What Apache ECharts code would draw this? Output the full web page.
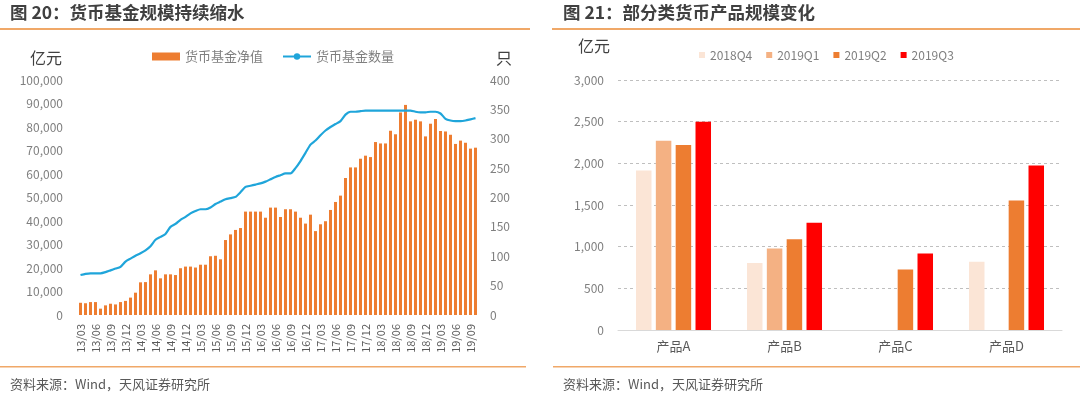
<!DOCTYPE html>
<html>
<head>
<meta charset="utf-8">
<script src="https://cdn.jsdelivr.net/npm/echarts@6/dist/echarts.min.js"></script>
<style>
  html, body { margin: 0; padding: 0; background: #fff; }
  #main { width: 1080px; height: 396px; }
</style>
</head>
<body>
<div id="main"></div>
<script>
var chart = echarts.init(document.getElementById('main'));

// ---------- left: money fund size & count, monthly 2013/03 - 2019/10 ----------
var months = [];
for (var y = 13; y <= 19; y++) {
  for (var m = 1; m <= 12; m++) {
    if ((y === 13 && m < 3) || (y === 19 && m > 10)) continue;
    months.push(y + '/' + (m < 10 ? '0' + m : m));
  }
}
var fundNav = [
  5200, 5000, 5500, 5500, 2700, 4100, 4800, 4500, 5500, 6000,
  7400, 9500, 13900, 14000, 17300, 19000, 15600, 17300, 17300, 17000,
  19900, 20600, 20600, 20200, 21400, 21400, 25000, 25200, 23700, 31900,
  34300, 36200, 37000, 44000, 44000, 44000, 44000, 41400, 45700, 45700,
  41700, 45000, 45000, 44000, 41400, 38900, 42700, 35700, 38600, 39900,
  44700, 48100, 50800, 58300, 62800, 62800, 66500, 67800, 67200, 73600,
  73000, 73000, 78400, 76900, 86200, 89400, 82400, 83100, 82400, 76000,
  81400, 83400, 78300, 78100, 76700, 72800, 74200, 73300, 70800, 71200
];
var fundCount = [
  68, 70, 71, 71, 71, 73, 76, 79, 82, 91,
  96, 101, 105, 110, 117, 128, 133, 138, 150, 155,
  162, 167, 173, 177, 180, 180, 183, 189, 193, 197,
  199, 201, 209, 218, 220, 222, 224, 227, 231, 235,
  238, 241, 241, 250, 262, 276, 290, 297, 306, 314,
  320, 325, 330, 341, 346, 346, 347, 348, 348, 348,
  348, 348, 348, 348, 348, 348, 348, 346, 345, 345,
  346, 346, 343, 334, 331, 330, 330, 331, 333, 335
];

// ---------- right: product sizes by quarter ----------
var products = ['产品A', '产品B', '产品C', '产品D'];
var quarters = ['2018Q4', '2019Q1', '2019Q2', '2019Q3'];
var q2018Q4 = [1913, 803, null, 819];
var q2019Q1 = [2272, 978, null, null];
var q2019Q2 = [2220, 1090, 727, 1553];
var q2019Q3 = [2500, 1286, 918, 1973];
var quarterColors = ['#FBE5D6', '#F4B183', '#ED7D31', '#FF0000'];

var font = '"Noto Sans CJK SC", "Noto Sans", sans-serif';
var labelGrey = '#7F7F7F';
var lineOrange = '#F0A868';

function thousands(v) {
  return String(v).replace(/\B(?=(\d{3})+(?!\d))/g, ',');
}

var option = {
  animation: false,
  textStyle: { fontFamily: font },
  graphic: [
    { type: 'text', left: 10, top: 4, style: { text: '图 20：货币基金规模持续缩水', font: 'bold 17.5px ' + font, fill: '#404040' } },
    { type: 'text', left: 563, top: 4, style: { text: '图 21：部分类货币产品规模变化', font: 'bold 17.5px ' + font, fill: '#404040' } },
    { type: 'rect', shape: { x: 0, y: 28, width: 530, height: 2 }, style: { fill: lineOrange } },
    { type: 'rect', shape: { x: 552, y: 28, width: 528, height: 2 }, style: { fill: lineOrange } },
    { type: 'rect', shape: { x: 0, y: 366, width: 526, height: 1.5 }, style: { fill: lineOrange } },
    { type: 'rect', shape: { x: 553, y: 366, width: 527, height: 1.5 }, style: { fill: lineOrange } },
    { type: 'text', left: 10, top: 378, style: { text: '资料来源：Wind，天风证券研究所', font: '13px ' + font, fill: '#595959' } },
    { type: 'text', left: 563, top: 378, style: { text: '资料来源：Wind，天风证券研究所', font: '13px ' + font, fill: '#595959' } },
    { type: 'text', left: 30, top: 50, style: { text: '亿元', font: '16px ' + font, fill: '#404040' } },
    { type: 'text', left: 496, top: 50, style: { text: '只', font: '16px ' + font, fill: '#404040' } },
    { type: 'text', left: 578, top: 38, style: { text: '亿元', font: '16px ' + font, fill: '#404040' } }
  ],
  legend: [
    {
      left: 147, top: 45,
      itemWidth: 28, itemHeight: 8, itemGap: 19,
      textStyle: { color: '#7F7F7F', fontSize: 13, fontFamily: font },
      data: [
        { name: '货币基金净值', icon: 'rect' },
        { name: '货币基金数量' }
      ]
    },
    {
      left: 694, top: 44,
      itemWidth: 6, itemHeight: 6, itemGap: 14,
      icon: 'rect',
      textStyle: { color: '#7F7F7F', fontSize: 12, fontFamily: font },
      data: quarters
    }
  ],
  grid: [
    { left: 78, right: 602, top: 80, bottom: 81 },
    { left: 618, right: 18, top: 80, bottom: 66 }
  ],
  xAxis: [
    {
      type: 'category', gridIndex: 0, data: months,
      axisLine: { show: false }, axisTick: { show: false },
      axisLabel: { interval: 2, rotate: 90, color: '#595959', fontSize: 11, margin: 9, fontFamily: font }
    },
    {
      type: 'category', gridIndex: 1, data: products,
      axisLine: { lineStyle: { color: '#D9D9D9', width: 1 } }, axisTick: { show: false },
      axisLabel: { color: '#595959', fontSize: 13, margin: 10, fontFamily: font }
    }
  ],
  yAxis: [
    {
      type: 'value', gridIndex: 0, min: 0, max: 100000, interval: 10000,
      splitLine: { show: false },
      axisLabel: { color: labelGrey, fontSize: 12, margin: 15, formatter: thousands }
    },
    {
      type: 'value', gridIndex: 0, min: 0, max: 400, interval: 50, position: 'right',
      splitLine: { show: false },
      axisLabel: { color: labelGrey, fontSize: 12, margin: 12 }
    },
    {
      type: 'value', gridIndex: 1, min: 0, max: 3000, interval: 500,
      splitLine: { lineStyle: { color: '#BFBFBF', type: [3, 3], width: 1 } },
      axisLabel: { color: labelGrey, fontSize: 12, margin: 14, formatter: thousands }
    }
  ],
  series: [
    {
      name: '货币基金净值', type: 'bar', xAxisIndex: 0, yAxisIndex: 0,
      data: fundNav, barWidth: 3, itemStyle: { color: '#ED7D31' }
    },
    {
      name: '货币基金数量', type: 'line', xAxisIndex: 0, yAxisIndex: 1,
      data: fundCount, symbol: 'none', smooth: 0.2,
      lineStyle: { color: '#1FA5DA', width: 2.2 }, itemStyle: { color: '#1FA5DA' }
    }
  ].concat([q2018Q4, q2019Q1, q2019Q2, q2019Q3].map(function (d, i) {
    return {
      name: quarters[i], type: 'bar', xAxisIndex: 1, yAxisIndex: 2,
      data: d, barWidth: 15.5, barGap: '28%',
      itemStyle: { color: quarterColors[i] }
    };
  }))
};

chart.setOption(option);
</script>
</body>
</html>
